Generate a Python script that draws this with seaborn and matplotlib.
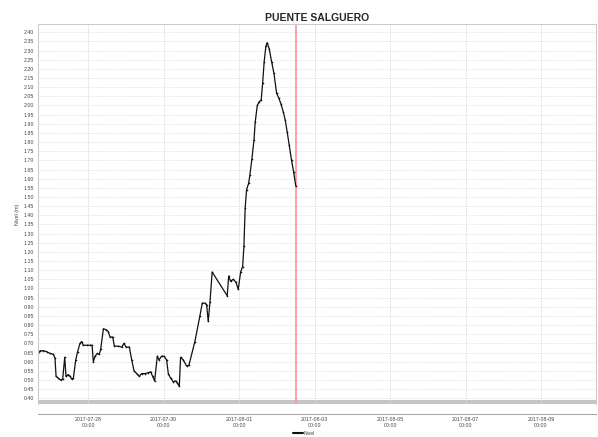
import matplotlib
matplotlib.use("Agg")
import matplotlib.pyplot as plt
import matplotlib.dates as mdates
from matplotlib.patches import Rectangle
import seaborn as sns
import pandas as pd

title = "PUENTE SALGUERO"
y_label = "Nivel (m)"
legend_label = "Nivel"

times = [
    "2017-07-26 15:36", "2017-07-26 17:18", "2017-07-26 19:24", "2017-07-26 21:30",
    "2017-07-26 23:36", "2017-07-27 01:48", "2017-07-27 02:48", "2017-07-27 03:30",
    "2017-07-27 04:54", "2017-07-27 06:24", "2017-07-27 07:42", "2017-07-27 09:00",
    "2017-07-27 09:48", "2017-07-27 11:18", "2017-07-27 12:24", "2017-07-27 13:24",
    "2017-07-27 14:30", "2017-07-27 16:00", "2017-07-27 17:12", "2017-07-27 18:42",
    "2017-07-27 19:48", "2017-07-27 20:48", "2017-07-27 23:00", "2017-07-28 01:06",
    "2017-07-28 02:24", "2017-07-28 03:12", "2017-07-28 04:18", "2017-07-28 05:42",
    "2017-07-28 07:00", "2017-07-28 07:54", "2017-07-28 09:36", "2017-07-28 11:18",
    "2017-07-28 12:42", "2017-07-28 13:48", "2017-07-28 15:30", "2017-07-28 16:36",
    "2017-07-28 19:06", "2017-07-28 21:12", "2017-07-28 22:42", "2017-07-29 00:00",
    "2017-07-29 02:06", "2017-07-29 03:36", "2017-07-29 05:06", "2017-07-29 06:48",
    "2017-07-29 08:24", "2017-07-29 09:54", "2017-07-29 12:00", "2017-07-29 14:12",
    "2017-07-29 15:42", "2017-07-29 16:54", "2017-07-29 18:12", "2017-07-29 19:54",
    "2017-07-29 21:00", "2017-07-29 22:36", "2017-07-30 00:06", "2017-07-30 01:48",
    "2017-07-30 02:54", "2017-07-30 04:24", "2017-07-30 06:06", "2017-07-30 07:30",
    "2017-07-30 08:36", "2017-07-30 09:54", "2017-07-30 10:42", "2017-07-30 12:24",
    "2017-07-30 14:30", "2017-07-30 16:00", "2017-07-30 19:48", "2017-07-30 23:00",
    "2017-07-31 00:30", "2017-07-31 02:12", "2017-07-31 03:18", "2017-07-31 04:18",
    "2017-07-31 05:24", "2017-07-31 06:48", "2017-07-31 16:24", "2017-07-31 17:18",
    "2017-07-31 18:30", "2017-07-31 20:12", "2017-07-31 21:54", "2017-07-31 23:24",
    "2017-08-01 00:54", "2017-08-01 02:12", "2017-08-01 03:00", "2017-08-01 03:48",
    "2017-08-01 04:42", "2017-08-01 06:00", "2017-08-01 06:48", "2017-08-01 08:06",
    "2017-08-01 09:24", "2017-08-01 10:12", "2017-08-01 11:30", "2017-08-01 12:42",
    "2017-08-01 14:00", "2017-08-01 14:54", "2017-08-01 15:54", "2017-08-01 17:00",
    "2017-08-01 17:48", "2017-08-01 19:06", "2017-08-01 20:36", "2017-08-01 22:06",
    "2017-08-01 23:48", "2017-08-02 01:12", "2017-08-02 02:30", "2017-08-02 04:00",
    "2017-08-02 05:18", "2017-08-02 06:30", "2017-08-02 07:48", "2017-08-02 09:18",
    "2017-08-02 10:36", "2017-08-02 12:00",
]
levels = [
    0.63, 0.66, 0.66, 0.655,
    0.645, 0.64, 0.62, 0.52,
    0.51, 0.50, 0.505, 0.624,
    0.52, 0.53, 0.52, 0.505,
    0.51, 0.61, 0.655, 0.70,
    0.71, 0.69, 0.69, 0.69,
    0.69, 0.60, 0.63, 0.645,
    0.64, 0.67, 0.78, 0.775,
    0.765, 0.735, 0.735, 0.685,
    0.685, 0.68, 0.70, 0.68,
    0.68, 0.61, 0.55, 0.535,
    0.52, 0.535, 0.535, 0.54,
    0.545, 0.52, 0.495, 0.63,
    0.61, 0.63, 0.63, 0.61,
    0.535, 0.51, 0.49, 0.495,
    0.485, 0.465, 0.624, 0.61,
    0.577, 0.58, 0.71, 0.85,
    0.92, 0.92, 0.91, 0.82,
    0.925, 1.09, 0.96, 1.068,
    1.04, 1.05, 1.035, 0.995,
    1.09, 1.12, 1.23, 1.44,
    1.54, 1.575, 1.62, 1.71,
    1.81, 1.91, 2.00, 2.02,
    2.03, 2.12, 2.24, 2.325,
    2.343, 2.31, 2.24, 2.175,
    2.067, 2.04, 2.01, 1.966,
    1.92, 1.857, 1.784, 1.70,
    1.638, 1.56,
]
now_marker = "2017-08-02 12:00"
x_ticks = ["2017-07-28", "2017-07-30", "2017-08-01", "2017-08-03",
           "2017-08-05", "2017-08-07", "2017-08-09"]
x_range = ["2017-07-26 16:00", "2017-08-10 11:00"]
y_ticks = [round(0.40 + 0.05 * i, 2) for i in range(41)]

df = pd.DataFrame({"time": pd.to_datetime(times), "level": levels})

sns.set_style("white")
plt.rcParams["font.family"] = ["Liberation Sans", "DejaVu Sans"]

fig = plt.figure(figsize=(5.98, 4.37), dpi=100)
ax = fig.add_axes([38 / 598, 1 - 404 / 437, 558 / 598, 380 / 437])

sns.lineplot(data=df, x="time", y="level", ax=ax, color="#111111", lw=0.9,
             marker="o", markersize=1.2, markeredgewidth=0, label=legend_label)

ax.axvline(pd.Timestamp(now_marker), color="#ff9a9a", lw=1.3, zorder=1)

ax.set_xlim(pd.Timestamp(x_range[0]), pd.Timestamp(x_range[1]))
ax.set_ylim(0.369, 2.445)
ax.set_yticks(y_ticks)
ax.set_yticklabels([f"{v:.2f}" for v in y_ticks])
ax.set_xticks(pd.to_datetime(x_ticks))
ax.xaxis.set_major_formatter(mdates.DateFormatter("%Y-%m-%d\n%H:%M"))

ax.grid(True, axis="y", color="#d8d8d8", lw=0.6, ls=(0, (1, 1.5)))
ax.grid(True, axis="x", color="#dcdcdc", lw=0.6, ls=(0, (2, 1)))

for s in ["top", "right", "left"]:
    ax.spines[s].set_color("#cccccc")
    ax.spines[s].set_linewidth(0.8)
ax.spines["bottom"].set_position(("outward", 7))
ax.spines["bottom"].set_color("#aaaaaa")
ax.spines["bottom"].set_linewidth(0.8)

# grey shaded band along the bottom of the plot area
ax.add_patch(Rectangle((0, 0), 1, 0.010, transform=ax.transAxes,
                       facecolor="#c4c4c4", edgecolor="none", zorder=0.5))

ax.tick_params(axis="both", labelsize=3.8, colors="#555555", length=1.5,
               width=0.5, pad=1.2)
ax.tick_params(axis="x", labelcolor="#444444")
ax.tick_params(axis="y", labelcolor="#444444")
for lab in ax.get_xticklabels():
    lab.set_horizontalalignment("center")
    lab.set_linespacing(1.2)

ax.set_xlabel("")
ax.set_ylabel(y_label, fontsize=3.8, color="#444444", labelpad=3)
ax.set_title(title, fontsize=7.5, fontweight="bold", pad=2.2)

leg = ax.legend(loc="center", bbox_to_anchor=(304 / 598, 1 - 433.5 / 437),
                bbox_transform=fig.transFigure, frameon=False,
                fontsize=3.6, handlelength=2.0, handletextpad=0.3,
                borderaxespad=0, borderpad=0)
for t in leg.get_texts():
    t.set_color("#444444")
for h in leg.legend_handles:
    h.set_marker("")
    h.set_linewidth(1.5)

fig.savefig("out.png", dpi=100)
